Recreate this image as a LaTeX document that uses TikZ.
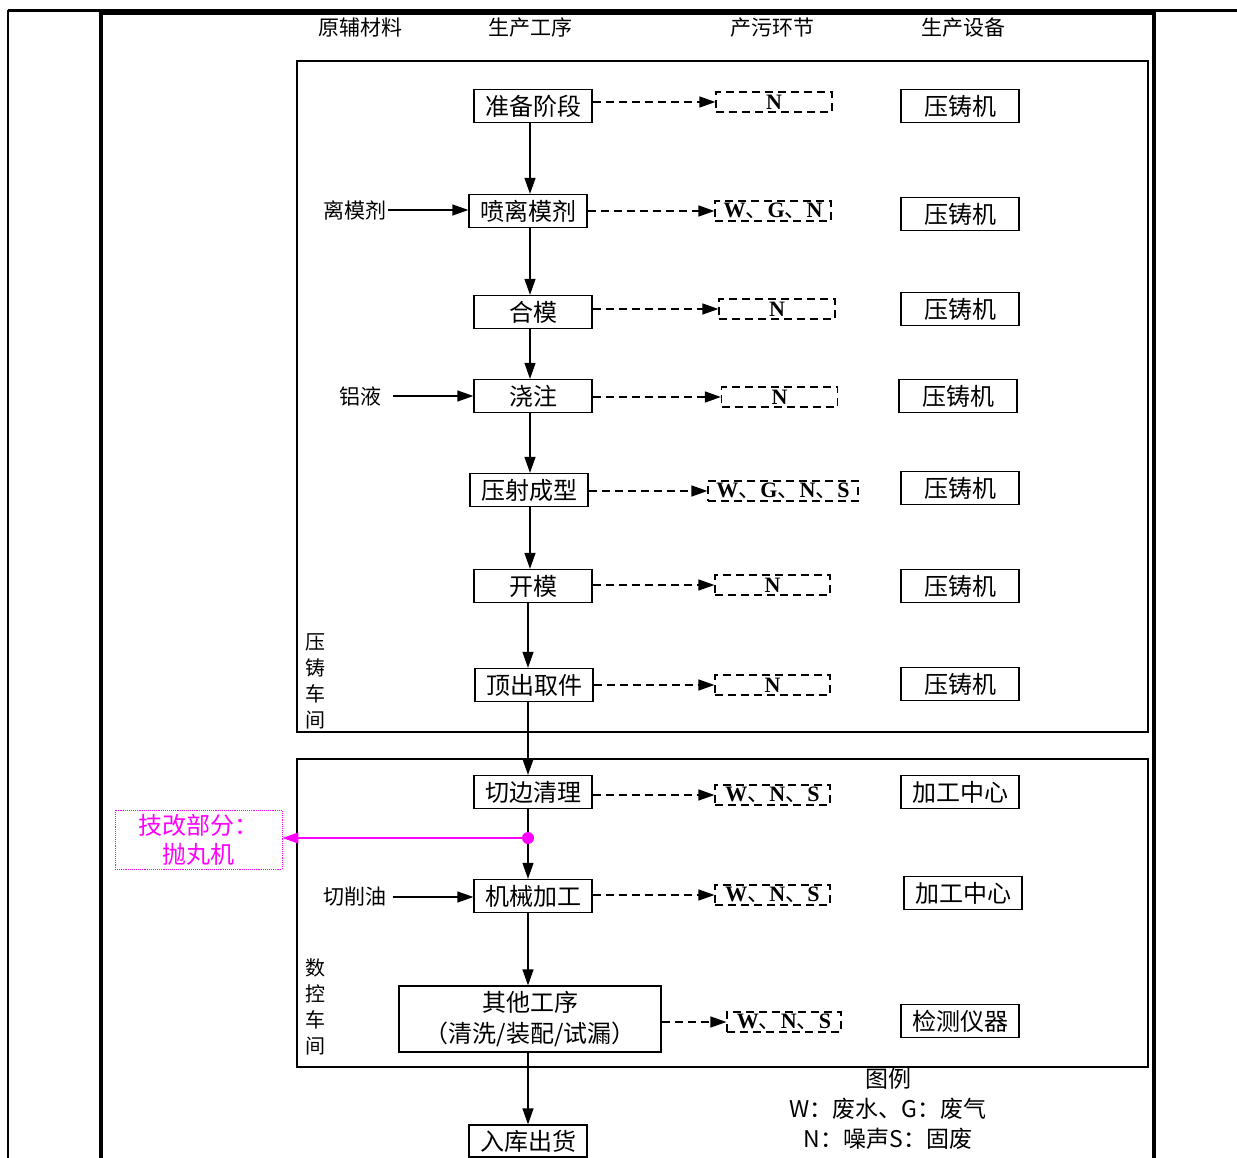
\documentclass[tikz,border=0pt]{standalone}
\usepackage{fontspec}
\setmainfont{Noto Sans CJK SC}
\newfontfamily\cjkf{Noto Sans CJK SC}
\newfontfamily\lat{Liberation Serif}
\usetikzlibrary{arrows.meta}
\newcommand\fsz[1]{\fontsize{#1}{#1}\selectfont}
\newcommand\dun{{\cjkf\mdseries 、}}
\definecolor{mag}{RGB}{255,0,255}
\begin{document}
\begin{tikzpicture}[x=1pt,y=-1pt,
  box/.style={draw, line width=1.3pt, minimum width=118pt, minimum height=33pt, inner sep=0pt, font=\fsz{24}},
  pol/.style={draw, dash pattern=on 8pt off 5pt, line width=1.2pt, minimum width=116pt, minimum height=20pt, inner sep=0pt, font=\lat\bfseries\fsz{22}},
  arr/.style={line width=1.3pt, -{Triangle[length=16pt,width=11pt]}},
  darr/.style={arr, dash pattern=on 8pt off 5pt},
  lbl/.style={font=\fsz{21}, inner sep=1pt},
  vlbl/.style={font=\fsz{20}, align=center, inner sep=0pt},
  frame/.style={line width=1.3pt}]
\path[use as bounding box] (0,0) rectangle (1237,1158);
% table frame
\draw[line width=2.5pt] (8,10.5) -- (1237,10.5);
\draw[line width=3pt] (101,13.5) -- (1155,13.5);
\draw[line width=2pt] (8,10) -- (8,1158);
\draw[line width=4.5pt] (101,11) -- (101,1158);
\draw[line width=4.5pt] (1154,11) -- (1154,1158);
% headers
\node[lbl] (h1) at (360,28) {原辅材料};
\node[lbl] (h2) at (530,28) {生产工序};
\node[lbl] (h3) at (772,28) {产污环节};
\node[lbl] (h4) at (963,28) {生产设备};
% workshop frames
\draw[frame] (297,61) rectangle (1148,732);
\draw[frame] (297,759) rectangle (1148,1067);
\node[vlbl] (w1) at (315,681) {压\\[6pt]铸\\[6pt]车\\[6pt]间};
\node[vlbl] (w2) at (315,1007) {数\\[6pt]控\\[6pt]车\\[6pt]间};
% process
\node[box] (e1) at (533,106) {准备阶段};
\node[box] (e2) at (528,211) {喷离模剂};
\node[box] (e3) at (533,312) {合模};
\node[box] (e4) at (533,396) {浇注};
\node[box] (e5) at (529,490) {压射成型};
\node[box] (e6) at (533,586) {开模};
\node[box] (e7) at (534,685) {顶出取件};
\node[box] (e8) at (533,792) {切边清理};
\node[box] (e9) at (533,896) {机械加工};
\node[box, minimum width=262pt, minimum height=66pt, align=center] (e10) at (530,1019) {其他工序\\[7pt]（清洗/装配/试漏）};
\node[box, minimum height=32pt] (e11) at (528,1141) {入库出货};
% equipment
\node[box] (q1) at (960,106) {压铸机};
\node[box] (q2) at (960,214) {压铸机};
\node[box] (q3) at (960,309) {压铸机};
\node[box] (q4) at (958,396) {压铸机};
\node[box] (q5) at (960,488) {压铸机};
\node[box] (q6) at (960,586) {压铸机};
\node[box] (q7) at (960,684) {压铸机};
\node[box] (q8) at (960,792) {加工中心};
\node[box] (q9) at (963,893) {加工中心};
\node[box] (q10) at (960,1021) {检测仪器};
% pollution
\node[pol] (p1) at (774,102) {N};
\node[pol] (p2) at (773,211) {W\dun G\dun N};
\node[pol] (p3) at (777,309) {N};
\node[pol] (p4) at (779.5,397) {N};
\node[pol, minimum width=150pt] (p5) at (783,491) {W\dun G\dun N\dun S};
\node[pol, minimum width=115pt] (p6) at (772.5,585) {N};
\node[pol, minimum width=115pt] (p7) at (772.5,685) {N};
\node[pol, minimum width=115pt] (p8) at (772.5,795) {W\dun N\dun S};
\node[pol, minimum width=115pt] (p9) at (772.5,895) {W\dun N\dun S};
\node[pol, minimum width=114pt] (p10) at (784,1022) {W\dun N\dun S};
\foreach \i in {1,...,9,10}{
  \draw[darr] (e\i.east |- p\i) -- (p\i.west);
}
% vertical flow
\coordinate (ca) at (530,0);
\coordinate (cb) at (528,0);
\draw[arr] (e1.south -| ca) -- (e2.north -| ca);
\draw[arr] (e2.south -| ca) -- (e3.north -| ca);
\draw[arr] (e3.south -| ca) -- (e4.north -| ca);
\draw[arr] (e4.south -| ca) -- (e5.north -| ca);
\draw[arr] (e5.south -| ca) -- (e6.north -| ca);
\draw[arr] (e6.south -| cb) -- (e7.north -| cb);
\draw[arr] (e7.south -| cb) -- (e8.north -| cb);
\draw[arr] (e8.south -| cb) -- (e9.north -| cb);
\draw[arr] (e9.south -| cb) -- (e10.north -| cb);
\draw[arr] (e10.south -| cb) -- (e11.north -| cb);
% inputs
\node[lbl] (l1) at (355,210) {离模剂};
\node[lbl] (l2) at (360,396) {铝液};
\node[lbl] (l3) at (355,897) {切削油};
\draw[arr] (l1.east) -- (e2.west |- l1.east);
\draw[arr] ([xshift=11pt]l2.east) -- (e4.west |- l2.east);
\draw[arr] ([xshift=5pt]l3.east) -- (e9.west |- l3.east);
% technical modification
\node[draw=mag, densely dotted, line width=0.9pt, minimum width=167pt, minimum height=59pt, inner sep=0pt, align=center, text=mag, font=\fsz{24}] (tg) at (198.5,839.5) {技改部分：\\[5pt]抛丸机};
\node[circle, fill=mag, inner sep=0pt, minimum size=12pt] (dot) at (528,838) {};
\draw[mag, line width=1.3pt, -{Triangle[length=16pt,width=11pt]}] (dot.center) -- (tg.east |- dot);
% legend
\node[font=\fsz{23}, align=center, inner sep=0pt] (leg) at (888,1109) {图例\\[7pt]W：废水、G：废气\\[7pt]N：噪声S：固废};
\end{tikzpicture}
\end{document}
